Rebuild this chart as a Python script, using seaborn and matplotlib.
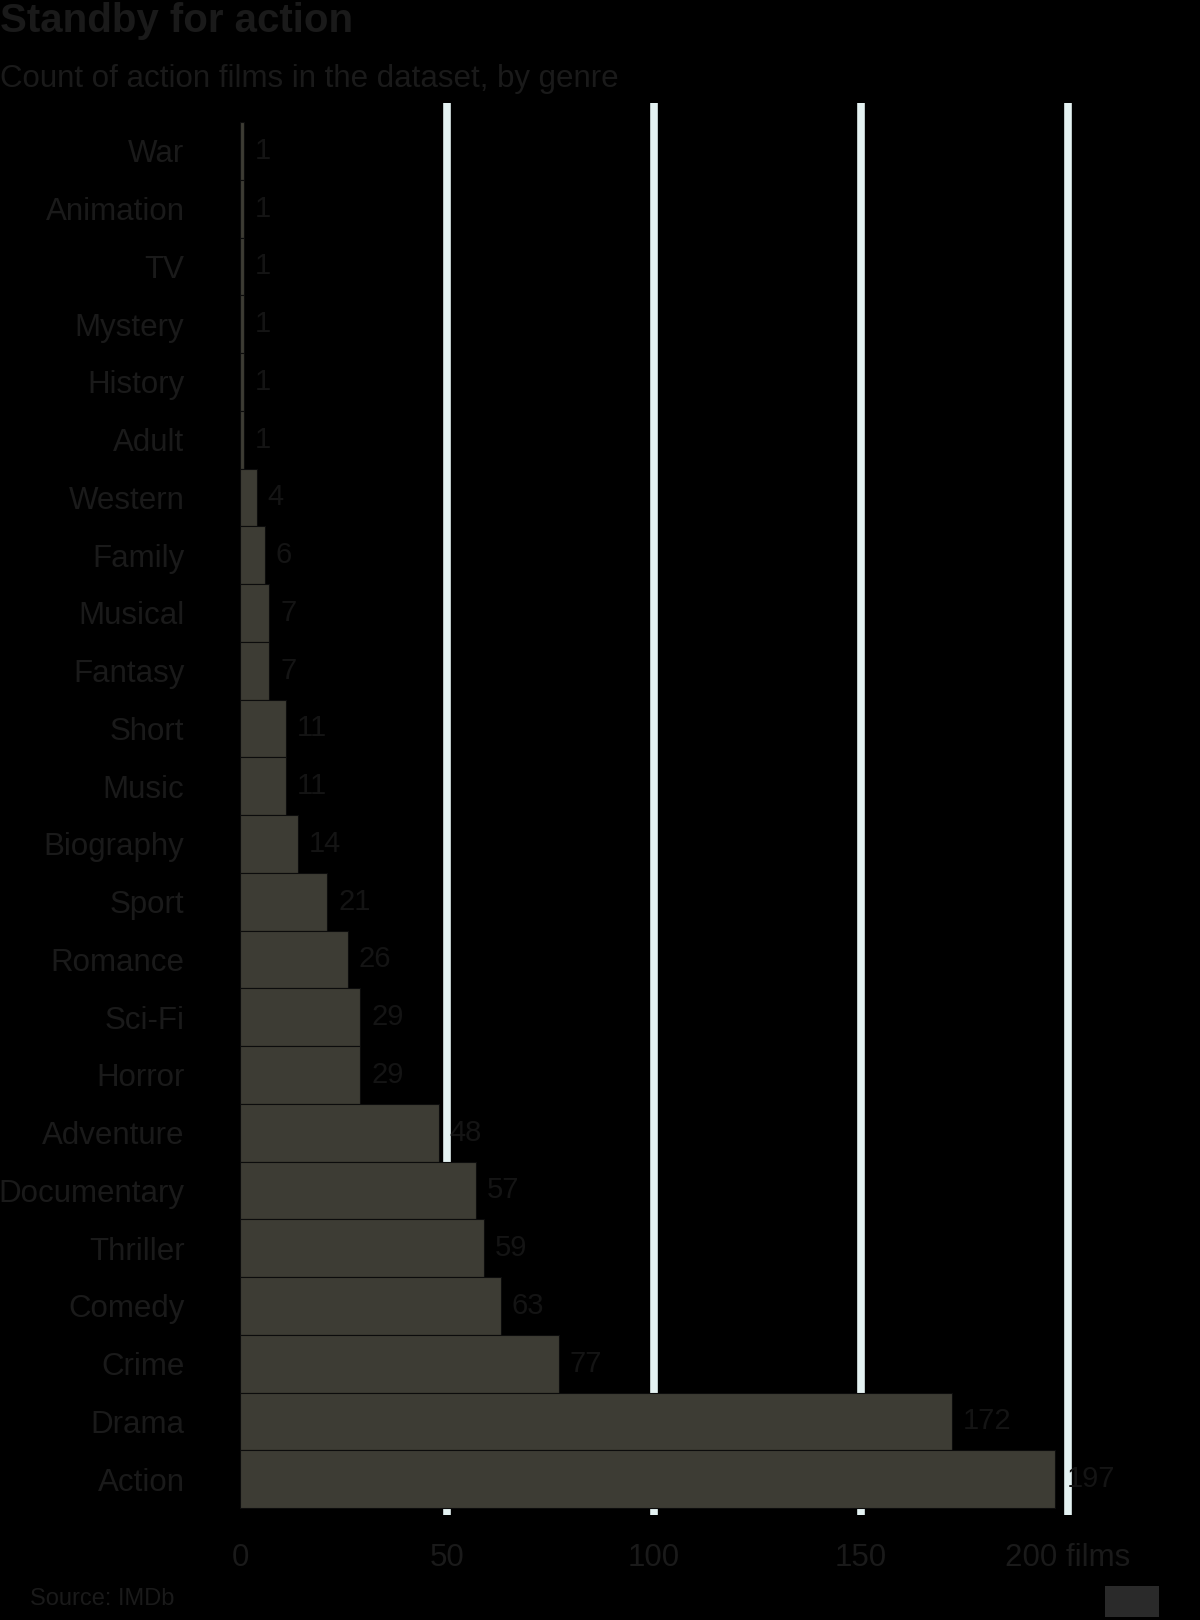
import matplotlib
matplotlib.use("Agg")
import matplotlib.pyplot as plt
import seaborn as sns
import pandas as pd

# genres, top to bottom, and number of films per genre
genres = ["War", "Animation", "TV", "Mystery", "History", "Adult", "Western",
          "Family", "Musical", "Fantasy", "Short", "Music", "Biography", "Sport",
          "Romance", "Sci-Fi", "Horror", "Adventure", "Documentary", "Thriller",
          "Comedy", "Crime", "Drama", "Action"]
films = [1, 1, 1, 1, 1, 1, 4, 6, 7, 7, 11, 11, 14, 21, 26, 29, 29, 48, 57, 59,
         63, 77, 172, 197]
x_ticks = [0, 50, 100, 150, 200]
x_labels = ["0", "50", "100", "150", "200 films"]

BG = "#000000"
TEXT = "#1a1a1a"
LABEL = "#141414"
BAR = "#3d3c34"
GRID = "#e4f2f2"

sns.set_style("white")
plt.rcParams["font.family"] = ["Liberation Sans", "DejaVu Sans"]

df = pd.DataFrame({"genre": genres, "films": films})

fig = plt.figure(figsize=(12, 16.2), dpi=100, facecolor=BG)
ax = fig.add_axes([0.2, 0.0648, 0.70, 0.8716])
ax.set_facecolor(BG)

sns.barplot(data=df, x="films", y="genre", orient="h", color=BAR, width=1.0,
            edgecolor="#0c0c0c", linewidth=0.8, saturation=1, ax=ax, zorder=2)

ax.set_xlim(0, 203)
ax.set_ylim(len(genres) - 0.38, -0.83)
ax.set_xticks(x_ticks)
ax.set_xticklabels(x_labels)
ax.xaxis.grid(True, color=GRID, linewidth=5.5, zorder=0)
ax.set_axisbelow(True)
ax.yaxis.grid(False)
# no gridline at zero
ax.xaxis.get_gridlines()[0].set_visible(False)
for s in ax.spines.values():
    s.set_visible(False)

ax.tick_params(axis="x", length=0, pad=20, labelsize=22.5, labelcolor=TEXT)
ax.tick_params(axis="y", length=0, pad=40, labelsize=22.5, labelcolor=TEXT)
ax.set_xlabel("")
ax.set_ylabel("")

# value labels
ax.bar_label(ax.containers[0], labels=[str(v) for v in films], padding=8,
             fontsize=21, color=LABEL)

fig.text(0.0, 0.999, "Standby for action", fontsize=29, fontweight="bold",
         color=TEXT, ha="left", va="top")
fig.text(0.0, 0.951, "Count of action films in the dataset, by genre",
         fontsize=22.5, color=TEXT, ha="left", va="center")
fig.text(0.025, 0.006, "Source: IMDb", fontsize=17, color=TEXT, ha="left",
         va="bottom")
fig.patches.append(plt.Rectangle((0.921, 0.002), 0.045, 0.019,
                                 transform=fig.transFigure, facecolor="#2a2a2a",
                                 edgecolor="none"))

fig.savefig("out.png", dpi=100, facecolor=BG)
